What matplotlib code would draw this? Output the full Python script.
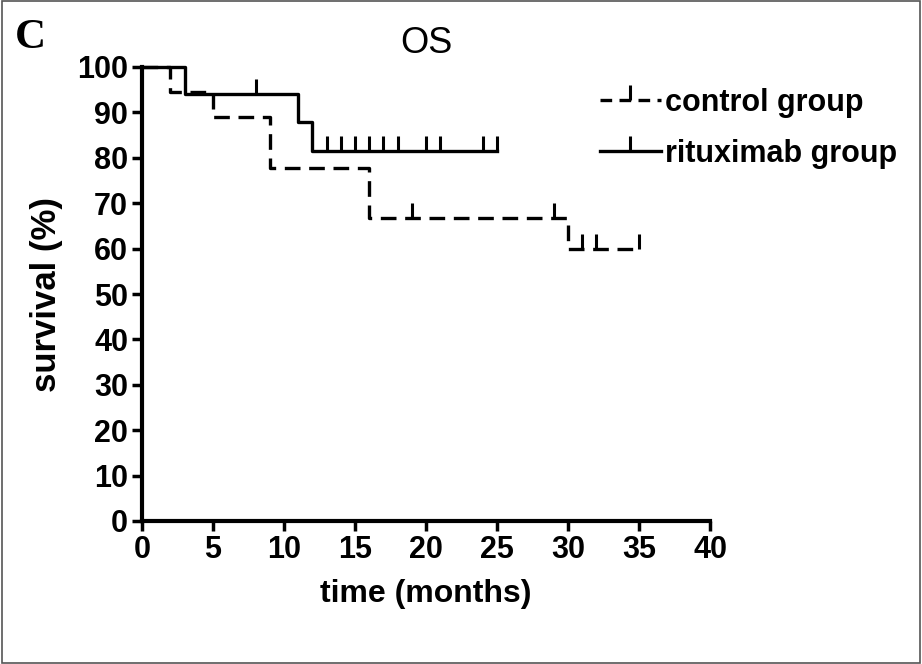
import matplotlib
matplotlib.use('Agg')
import matplotlib.pyplot as plt
from matplotlib.path import Path
from matplotlib.patches import Rectangle

plt.rcParams['font.family'] = ['Liberation Sans', 'DejaVu Sans']

# Kaplan-Meier steps
ctrl_t = [0, 2, 5, 9, 16, 30, 35]
ctrl_s = [100, 94.4, 88.9, 77.8, 66.7, 60.0, 60.0]
ctrl_cens_t = [19, 29, 31, 32, 35]
ctrl_cens_s = [66.7, 66.7, 60.0, 60.0, 60.0]

ritu_t = [0, 3, 11, 12, 25]
ritu_s = [100, 94.1, 87.8, 81.5, 81.5]
ritu_cens_t = [8, 13, 14, 15, 16, 17, 18, 20, 21, 24, 25]
ritu_cens_s = [94.1, 81.5, 81.5, 81.5, 81.5, 81.5, 81.5, 81.5, 81.5, 81.5, 81.5]

x_ticks = [0, 5, 10, 15, 20, 25, 30, 35, 40]
y_ticks = [0, 10, 20, 30, 40, 50, 60, 70, 80, 90, 100]

# censor tick pointing up from the curve
up_tick = Path([(0, 0), (0, 1)], [Path.MOVETO, Path.LINETO])
dash = (4.7, 2.6)

fig = plt.figure(figsize=(9.22, 6.64), dpi=100)
ax = fig.add_axes([142/922, 1-521/664, (710-142)/922, (521-67)/664])

ax.step(ctrl_t, ctrl_s, where='post', color='black', lw=2.4, dashes=dash, clip_on=False)
ax.plot(ctrl_cens_t, ctrl_cens_s, ls='none', marker=up_tick, ms=21, mew=2.2,
        color='black', clip_on=False)
ax.step(ritu_t, ritu_s, where='post', color='black', lw=2.4, clip_on=False)
ax.plot(ritu_cens_t, ritu_cens_s, ls='none', marker=up_tick, ms=21, mew=2.2,
        color='black', clip_on=False)

# legend handles
h1, = ax.plot([], [], color='black', lw=2.4, dashes=(3.5, 2.2), marker=up_tick, ms=21, mew=2.2)
h2, = ax.plot([], [], color='black', lw=2.4, marker=up_tick, ms=21, mew=2.2)
fig.legend([h1, h2], ['control group', 'rituximab group'], loc='upper left',
           bbox_to_anchor=(572/922, 1-60/664), frameon=False, numpoints=1,
           handlelength=2.0, handletextpad=0.15, labelspacing=0.7,
           prop={'weight': 'bold', 'size': 22})

ax.set_xlim(0, 40)
ax.set_ylim(0, 100)
ax.set_xticks(x_ticks)
ax.set_yticks(y_ticks)
ax.tick_params(direction='out', length=7, width=2.5, labelsize=22, pad=3)
for lab in ax.get_xticklabels() + ax.get_yticklabels():
    lab.set_fontweight('bold')
for side in ['top', 'right']:
    ax.spines[side].set_visible(False)
for side in ['left', 'bottom']:
    ax.spines[side].set_linewidth(3)

ax.set_xlabel('time (months)', fontsize=23, fontweight='bold', labelpad=10)
ax.set_ylabel('survival (%)', fontsize=25, fontweight='bold', labelpad=10)
ax.set_title('OS', fontsize=26, pad=10)

fig.text(15/922, 1-48/664, 'C', family='Liberation Serif', fontweight='bold', fontsize=31)
fig.add_artist(Rectangle((0.002, 0.002), 0.996, 0.996, transform=fig.transFigure,
                         fill=False, lw=1.2, ec='#555555'))

fig.savefig('out.png', dpi=100)
